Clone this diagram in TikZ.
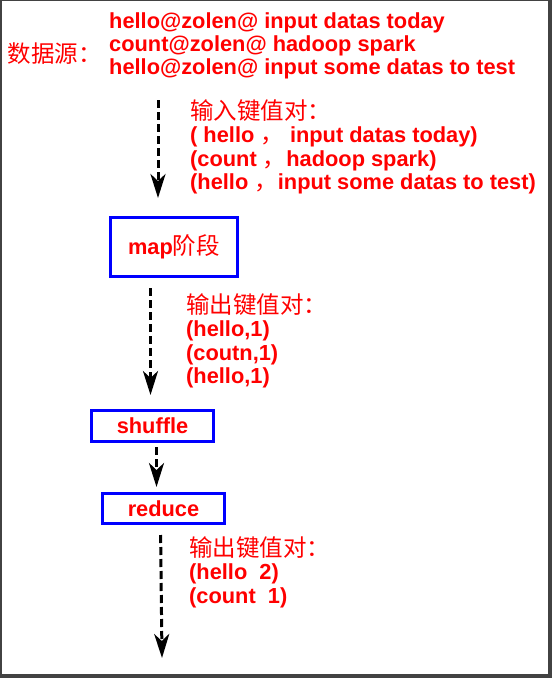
\documentclass[tikz,border=0pt]{standalone}
\usepackage{fontspec}
\setmainfont{Liberation Sans}
\newfontfamily\cjk{Noto Sans CJK SC}
\usetikzlibrary{positioning,arrows.meta,calc}
\definecolor{myred}{RGB}{255,0,0}
\definecolor{myblue}{RGB}{0,0,255}
\definecolor{myframe}{RGB}{66,66,66}
\newcommand\zh[1]{{\cjk\mdseries\fontsize{23.5}{23.5}\selectfont #1}}

\begin{document}
\begin{tikzpicture}[x=1pt,y=-1pt,
    every node/.style={text=myred,font=\fontsize{21.8}{23.5}\selectfont\bfseries},
    txt/.style={align=left,inner sep=0pt,anchor=north west},
    stage/.style={draw=myblue,line width=3pt,inner sep=0pt},
    flow/.style={dash pattern=on 8pt off 4pt,line width=3pt,
      -{Stealth[length=24pt,width=15pt,inset=7pt]}}
  ]
  \useasboundingbox (0,0) rectangle (552,678);

  % the frame
  \fill[myframe] (0,0) rectangle (552,678);
  \fill[white] (2,1) rectangle (548,674);

  % the data source
  \node[txt] (src) at (109,12) {hello@zolen@ input datas today\\
    count@zolen@ hadoop spark\\
    hello@zolen@ input some datas to test};
  \node[inner sep=0pt] (srclbl) at (55,54) {\zh{数据源：}};

  % the stages
  \node[stage,minimum width=127pt,minimum height=59pt] (map) at (174,247) {map\zh{阶段}};
  \node[stage,minimum width=122pt,minimum height=31pt] (shuffle) at (152.5,426) {shuffle};
  \node[stage,minimum width=122pt,minimum height=30pt] (reduce) at (163.5,508.5) {reduce};

  % the key/value pairs
  \node[txt] (inkv) at (190,99) {\zh{输入键值对：}\\
    ( hello \zh{，}\ input datas today)\\
    (count \zh{，}hadoop spark)\\
    (hello \zh{，}input some datas to test)};
  \node[txt] (mapkv) at (186,293) {\zh{输出键值对：}\\
    (hello,1)\\
    (coutn,1)\\
    (hello,1)};
  \node[txt] (redkv) at (189,536) {\zh{输出键值对：}\\
    (hello\ \ 2)\\
    (count\ \ 1)};

  % the arrows
  \coordinate (a1) at (158,100);
  \coordinate (out) at (162,658);
  \draw[flow,shorten >=18pt] (a1) -- (a1 |- map.north);
  \draw[flow,shorten <=10pt,shorten >=14pt] ([xshift=-2pt]shuffle.north |- map.south) -- ([xshift=-2pt]shuffle.north);
  \draw[flow,shorten <=4pt,shorten >=5pt] ([xshift=4pt]shuffle.south) -- ([xshift=4pt]shuffle.south |- reduce.north);
  \draw[flow,shorten <=10pt] ([xshift=-3pt]reduce.south) -- (out);
\end{tikzpicture}
\end{document}
